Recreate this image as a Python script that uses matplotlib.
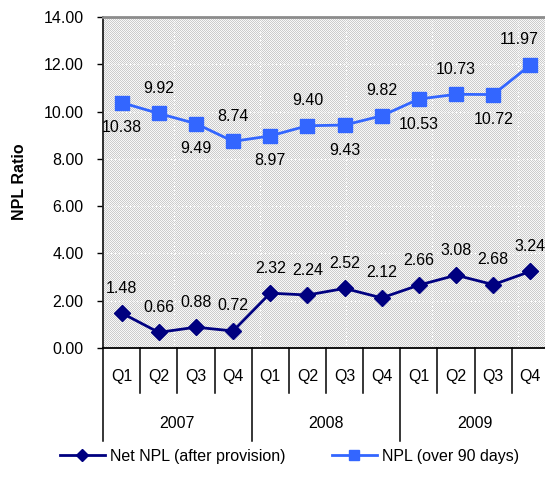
import numpy as np
import matplotlib
matplotlib.use("Agg")
import matplotlib.pyplot as plt
from matplotlib.lines import Line2D

plt.rcParams["font.family"] = ["Liberation Sans", "DejaVu Sans"]

quarters = ["Q1", "Q2", "Q3", "Q4"] * 3
years = ["2007", "2008", "2009"]
net_npl = [1.48, 0.66, 0.88, 0.72, 2.32, 2.24, 2.52, 2.12, 2.66, 3.08, 2.68, 3.24]
npl_90 = [10.38, 9.92, 9.49, 8.74, 8.97, 9.40, 9.43, 9.82, 10.53, 10.73, 10.72, 11.97]
y_ticks = [0, 2, 4, 6, 8, 10, 12, 14]

NAVY = "#000080"
BLUE = "#3366FF"
FS = 11.5

W, H = 545, 493
fig = plt.figure(figsize=(W / 100, H / 100), dpi=100)
ax_l, ax_r, ax_t, ax_b = 103, 549, 17, 348
ax = fig.add_axes([ax_l / W, 1 - ax_b / H, (ax_r - ax_l) / W, (ax_b - ax_t) / H])

# fine dotted fill of the plot area
pw, ph = ax_r - ax_l, ax_b - ax_t
ii, jj = np.indices((ph, pw))
checker = np.where((ii + jj) % 2 == 0, 0.80, 0.97)
ax.imshow(checker, cmap="gray", vmin=0, vmax=1, extent=[0, 1, 0, 1],
          transform=ax.transAxes, interpolation="nearest", aspect="auto", zorder=0)

x = np.arange(len(quarters))
ax.set_xlim(-0.5, len(quarters) - 0.5)
ax.set_ylim(0, 14)
ax.set_yticks(y_ticks)
ax.set_yticklabels([f"{v:.2f}" for v in y_ticks], fontsize=FS)
ax.tick_params(axis="y", direction="out", length=4, width=1, pad=10, colors="black")
ax.set_xticks([])

# light dotted grid
for v in y_ticks[1:-1]:
    ax.axhline(v, color="white", lw=0.9, ls=(0, (1, 2)), zorder=1)
for f in [0.159, 0.352, 0.545, 0.738, 0.931]:
    ax.plot([f, f], [0, 1], transform=ax.transAxes, color="white", lw=0.9,
            ls=(0, (1, 2)), zorder=1)

ax.spines["right"].set_visible(False)
ax.spines["top"].set_color("#8c8c8c")
ax.spines["top"].set_linewidth(2)
ax.spines["left"].set_color("#202020")
ax.spines["left"].set_linewidth(1.3)
ax.spines["bottom"].set_color("black")
ax.spines["bottom"].set_linewidth(1.3)

ax.plot(x, npl_90, color=BLUE, lw=2, marker="s", markersize=10, zorder=3)
ax.plot(x, net_npl, color=NAVY, lw=2, marker="D", markersize=8.5, zorder=3)

last = len(npl_90) - 1
for i, v in enumerate(npl_90):
    dy = 18 if i % 2 else -18
    dx = -8 if i == last else 0
    ax.annotate(f"{v:.2f}", (x[i], v), xytext=(dx, dy), textcoords="offset points",
                ha="center", va="center", fontsize=FS, zorder=4)
for i, v in enumerate(net_npl):
    ax.annotate(f"{v:.2f}", (x[i], v), xytext=(0, 18), textcoords="offset points",
                ha="center", va="center", fontsize=FS, zorder=4)

# two-level category axis
q_y = -28 / ph
yr_y = -76 / ph
q_sep = -45 / ph
yr_sep = -93 / ph
trans = ax.get_xaxis_transform()
for i, q in enumerate(quarters):
    ax.text(x[i], q_y, q, transform=trans, ha="center", va="center", fontsize=FS)
for k, yr in enumerate(years):
    ax.text(4 * k + 1.5, yr_y, yr, transform=trans, ha="center", va="center", fontsize=FS)
for b in np.arange(-0.5, len(quarters) + 0.5, 1.0):
    bottom = yr_sep if (b + 0.5) % 4 == 0 else q_sep
    ax.add_line(Line2D([b, b], [0, bottom], transform=trans, color="black",
                       lw=1.1, clip_on=False))

fig.text(20 / W, 1 - 182 / H, "NPL Ratio", rotation=90, ha="center", va="center",
         fontsize=FS, fontweight="bold")

handles = [
    Line2D([], [], color=NAVY, lw=2, marker="D", markersize=6),
    Line2D([], [], color=BLUE, lw=2, marker="s", markersize=7),
]
fig.legend(handles, ["Net NPL (after provision)", "NPL (over 90 days)"], ncol=2,
           loc="center left", bbox_to_anchor=(60 / W, 1 - 456 / H), frameon=False,
           fontsize=FS, handlelength=2.8, handletextpad=0.35, columnspacing=2.9,
           borderpad=0, borderaxespad=0)

fig.savefig("out.png", dpi=100)
